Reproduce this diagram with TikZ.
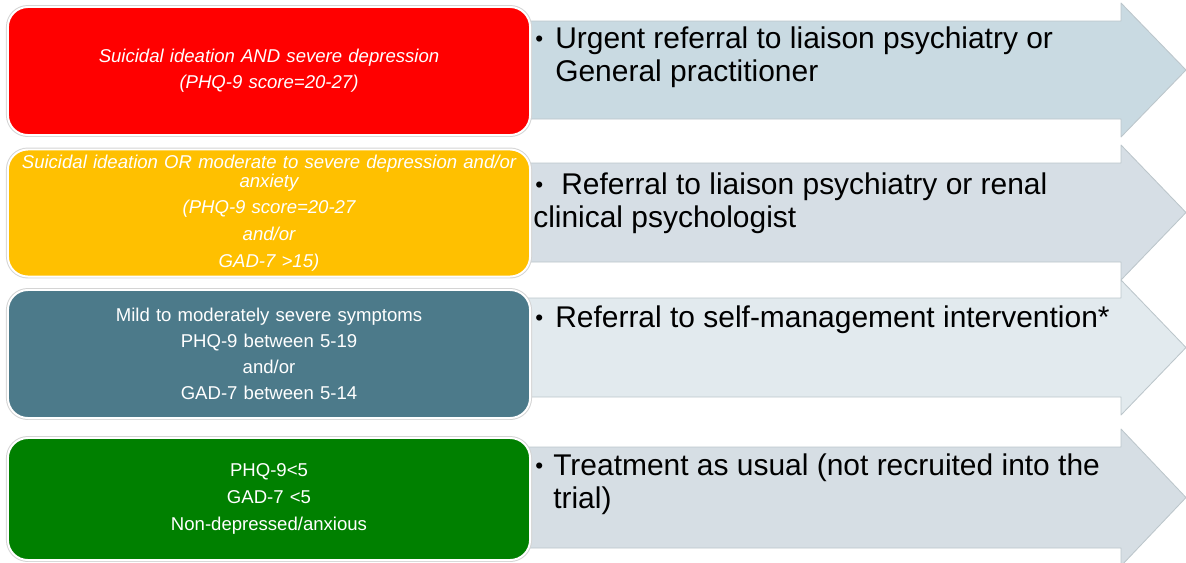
\documentclass[tikz,border=0pt]{standalone}
\usepackage{fontspec}
\setmainfont{Liberation Sans}
\usetikzlibrary{positioning}

\definecolor{severered}{HTML}{FF0000}
\definecolor{moderateamber}{HTML}{FFC000}
\definecolor{mildteal}{HTML}{4C7A8A}
\definecolor{nonegreen}{HTML}{008000}
\definecolor{arrowA}{HTML}{C9DAE2}
\definecolor{arrowB}{HTML}{D6DEE5}
\definecolor{arrowC}{HTML}{E2EAEE}
\definecolor{arrowD}{HTML}{D6DEE4}
\definecolor{rim}{HTML}{BCC6CB}

\newcommand\listdot{\raisebox{2pt}{\fontsize{16}{16}\selectfont\textbullet}}

\tikzset{
  level/.style={rounded corners=0.5cm, minimum width=13.05cm, text width=12.8cm, align=center,
    text=white, draw=white, line width=1.4pt, preaction={draw=black!17, line width=2.8pt},
    inner sep=0pt, font=\fontsize{13.2}{13.5}\selectfont},
  action/.style={anchor=north west, align=left, inner sep=0pt, text=black,
    font=\fontsize{21.3}{23}\selectfont}
}

\begin{document}
\begin{tikzpicture}[line cap=round,line join=round,x=0.025cm,y=-0.025cm]
\useasboundingbox (0,0) rectangle (1186,562);
\foreach \ytop/\ybot/\tone in {21/119/arrowA, 163/262/arrowB, 298/397/arrowC, 447/548/arrowD}
  \draw[draw=rim, line width=0.6pt, fill=\tone] (520,\ytop) -- (1121,\ytop) -- (1121,\ytop-18) -- (1186,{(\ytop+\ybot)/2})
    -- (1121,\ybot+18) -- (1121,\ybot) -- (520,\ybot) -- cycle;

\node[level, fill=severered, minimum height=3.2cm] (severe) at (269,71)
  {\itshape Suicidal ideation AND severe depression\\[5pt](PHQ-9 score=20-27)};
\node[level, fill=moderateamber, minimum height=3.175cm] (moderate) at (269,213)
  {\itshape Suicidal ideation OR moderate to severe depression and/or\\anxiety\\[5.5pt](PHQ-9 score=20-27\\[5.5pt]and/or\\[5.5pt]GAD-7 >15)};
\node[level, fill=mildteal, minimum height=3.2cm] (mild) at (269,354)
  {Mild to moderately severe symptoms\\[5pt]PHQ-9 between 5-19\\[5pt]and/or\\[5pt]GAD-7 between 5-14};
\node[level, fill=nonegreen, minimum height=3.05cm] (none) at (269,499)
  {PHQ-9<5\\[6pt]GAD-7 <5\\[6pt]Non-depressed/anxious};

\node[action] (urgentref) at (535,27)
  {\makebox[0.5cm][l]{\listdot}Urgent referral to liaison psychiatry or\\\hspace*{0.5cm}General practitioner};
\node[action] (liaisonref) at (533,173)
  {\makebox[0.7cm][l]{\hspace*{0.05cm}\listdot}Referral to liaison psychiatry or renal\\clinical psychologist};
\node[action] (selfref) at (535,306)
  {\makebox[0.5cm][l]{\listdot}Referral to self-management intervention*};
\node[action] (usualcare) at (535,454)
  {\makebox[0.45cm][l]{\listdot}Treatment as usual (not recruited into the\\\hspace*{0.45cm}trial)};
\end{tikzpicture}
\end{document}
